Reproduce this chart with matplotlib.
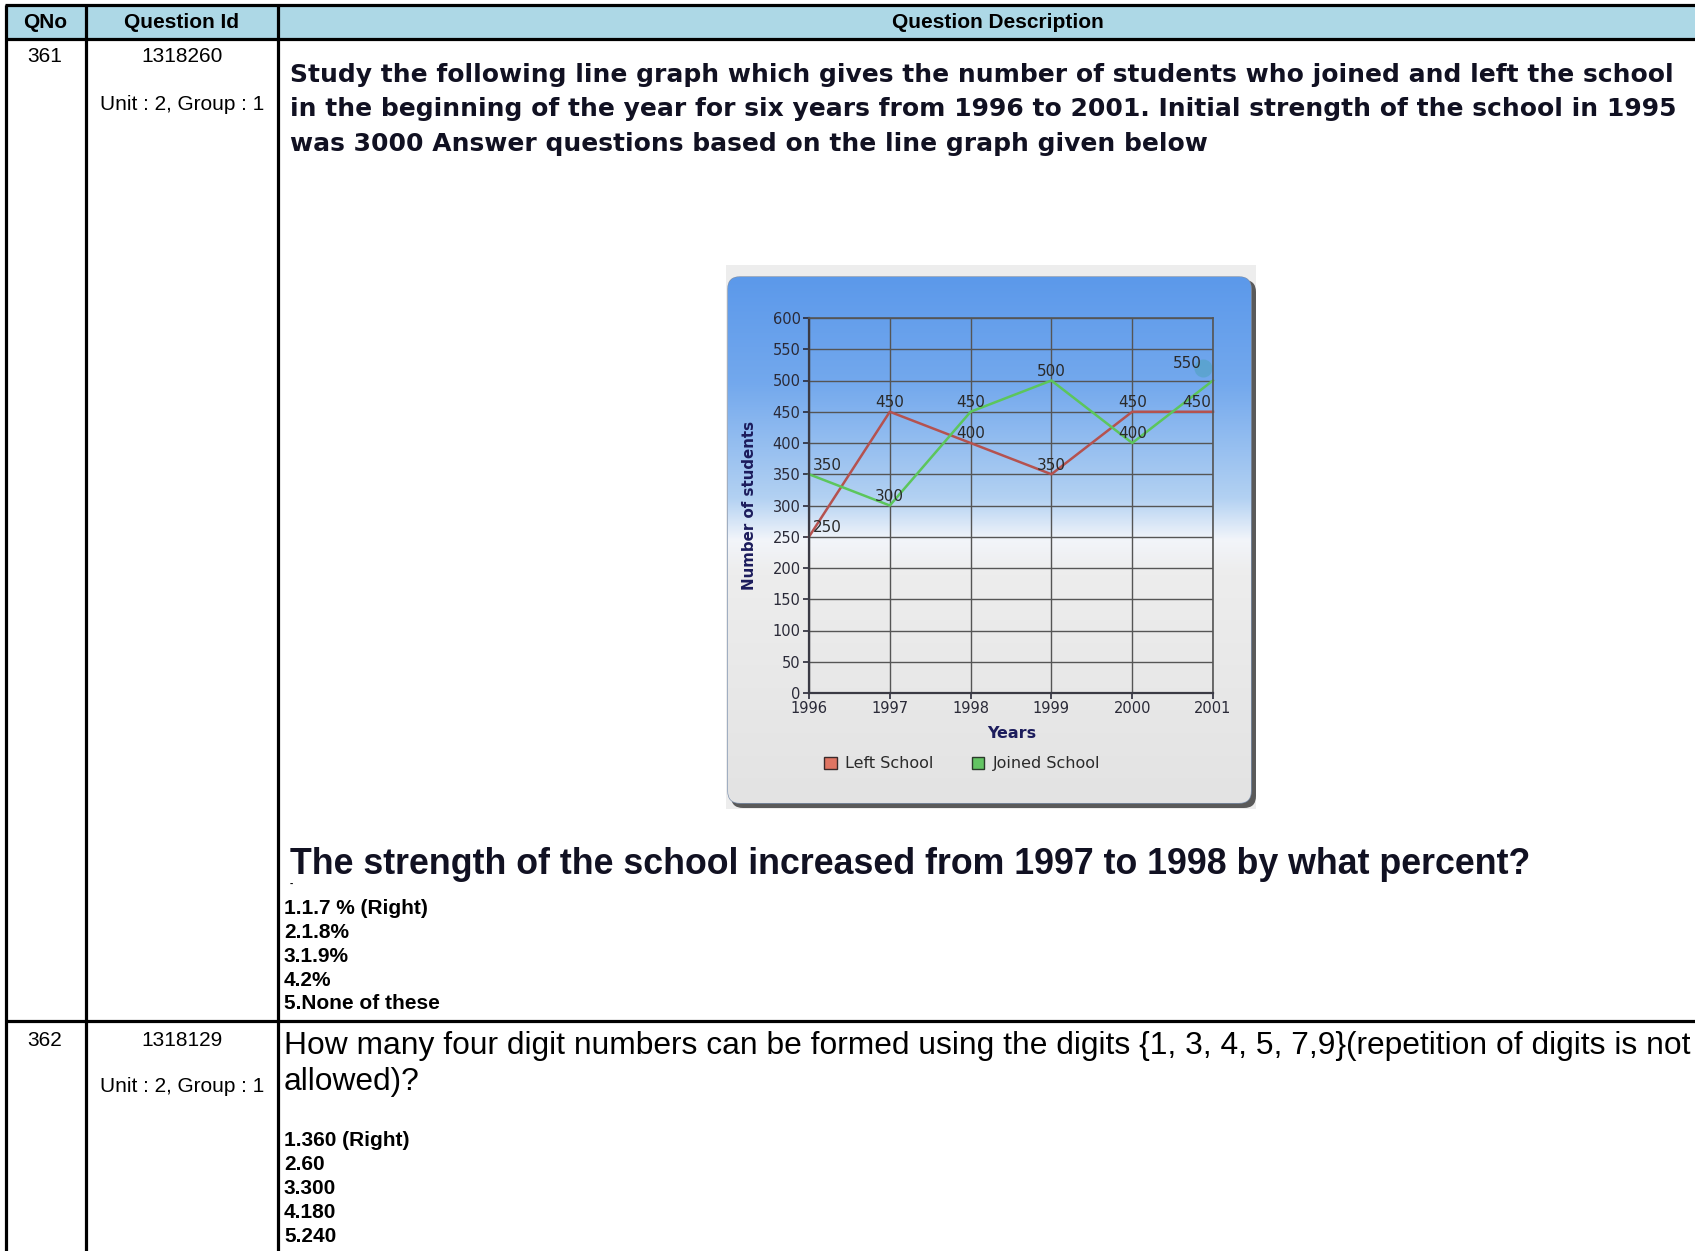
import matplotlib
matplotlib.use('Agg')
import matplotlib.pyplot as plt
import matplotlib.transforms as mtransforms
import numpy as np
from matplotlib.patches import FancyBboxPatch, Rectangle, Patch

# ---- table content ----
header_cols = ['QNo', 'Question Id', 'Question Description']
q_numbers = ['361', '362']
q_ids = ['1318260', '1318129']
q_units = ['Unit : 2, Group : 1', 'Unit : 2, Group : 1']

q1_intro = [
    'Study the following line graph which gives the number of students who joined and left the school',
    'in the beginning of the year for six years from 1996 to 2001. Initial strength of the school in 1995',
    'was 3000 Answer questions based on the line graph given below',
]
q1_question = 'The strength of the school increased from 1997 to 1998 by what percent?'
q1_options = ['1.1.7 % (Right)', '2.1.8%', '3.1.9%', '4.2%', '5.None of these']

q2_question = [
    'How many four digit numbers can be formed using the digits {1, 3, 4, 5, 7,9}(repetition of digits is not',
    'allowed)?',
]
q2_options = ['1.360 (Right)', '2.60', '3.300', '4.180', '5.240']

# ---- chart data ----
years = [1996, 1997, 1998, 1999, 2000, 2001]
left_school = [250, 450, 400, 350, 450, 450]
joined_school = [350, 300, 450, 500, 400, 500]
left_labels = ['250', '450', '400', '350', '450', '450']
joined_labels = ['350', '300', '450', '500', '400', '550']

W, H = 1695, 1251
fig = plt.figure(figsize=(W / 100, H / 100), dpi=100)
fig.patch.set_facecolor('white')
bg = fig.add_axes([0, 0, 1, 1])
bg.set_xlim(0, W)
bg.set_ylim(H, 0)
bg.axis('off')
renderer = fig.canvas.get_renderer()


def fit_text(x, y, s, width, **kw):
    # scale font so the string spans the given pixel width
    t = bg.text(x, y, s, fontsize=10, **kw)
    w = t.get_window_extent(renderer).width
    t.set_fontsize(10 * width / w)
    return t


# ---- table frame ----
bg.add_patch(Rectangle((5, 5), W, 34, facecolor='#add8e6', edgecolor='none'))
lw = 2.3
for yy in [5, 39, 1021]:
    bg.plot([5, W], [yy, yy], color='black', lw=lw, solid_capstyle='butt')
for xx in [5.5, 86, 278]:
    bg.plot([xx, xx], [5, H], color='black', lw=lw, solid_capstyle='butt')

sans = 'Liberation Sans'
hdr_x = [45, 182, 998]
for x, s in zip(hdr_x, header_cols):
    bg.text(x, 23, s, ha='center', va='center', fontsize=15, fontweight='bold', family=sans)

row_y = [(56, 105), (1040, 1087)]
for (y1, y2), n, qid, unit in zip(row_y, q_numbers, q_ids, q_units):
    bg.text(45, y1, n, ha='center', va='center', fontsize=15, family=sans)
    bg.text(182, y1, qid, ha='center', va='center', fontsize=15, family=sans)
    bg.text(182, y2, unit, ha='center', va='center', fontsize=15, family=sans)

# question 1 intro (Verdana-like bold)
t = fit_text(290, 144, q1_intro[2], 917, ha='left', va='center',
             fontweight='bold', family='DejaVu Sans', color='#111122')
fs_intro = t.get_fontsize()
for y, s in zip([75, 109], q1_intro[:2]):
    bg.text(290, y, s, ha='left', va='center', fontsize=fs_intro,
            fontweight='bold', family='DejaVu Sans', color='#111122')

fit_text(290, 865, q1_question, 1245, ha='left', va='center',
         fontweight='bold', family=sans, color='#111122')
bg.text(290, 884, '-', ha='left', va='center', fontsize=7, fontweight='bold', family=sans)

for i, s in enumerate(q1_options):
    bg.text(284, 909 + i * 23.7, s, ha='left', va='center', fontsize=15,
            fontweight='bold', family=sans)

t2 = fit_text(284, 1046, q2_question[0], 1408, ha='left', va='center', family=sans)
bg.text(284, 1082, q2_question[1], ha='left', va='center',
        fontsize=t2.get_fontsize(), family=sans)
for i, s in enumerate(q2_options):
    bg.text(284, 1140 + i * 24, s, ha='left', va='center', fontsize=15,
            fontweight='bold', family=sans)

# ---- chart panel ----
bg.add_patch(Rectangle((726, 265), 530, 544, facecolor='#ededed', edgecolor='none'))
bg.add_patch(FancyBboxPatch((731, 280), 525, 528, boxstyle='round,pad=0,rounding_size=12',
                            facecolor='#5a5a5a', edgecolor='none'))
panel = FancyBboxPatch((728, 277), 523, 526, boxstyle='round,pad=0,rounding_size=12',
                       facecolor='none', edgecolor='#7f93b0', lw=1)
bg.add_patch(panel)
yy = np.linspace(0, 1, 300)
stops = [0, 0.2, 0.42, 0.5, 0.56, 1]
rr = np.interp(yy, stops, [0.36, 0.45, 0.70, 0.95, 0.93, 0.89])
gg = np.interp(yy, stops, [0.60, 0.66, 0.82, 0.96, 0.93, 0.89])
bb = np.interp(yy, stops, [0.92, 0.93, 0.95, 0.98, 0.93, 0.89])
grad = np.stack([rr, gg, bb], axis=1)[:, None, :].repeat(2, axis=1)
im = bg.imshow(grad, extent=(728, 1251, 803, 277), aspect='auto', origin='upper', zorder=1)
im.set_clip_path(panel)
bg.set_xlim(0, W)
bg.set_ylim(H, 0)

# ---- line chart ----
px_l, px_r, px_t, px_b = 809, 1213, 318, 693
ax = fig.add_axes([px_l / W, 1 - px_b / H, (px_r - px_l) / W, (px_b - px_t) / H])
ax.set_facecolor('none')
ax.set_xlim(1996, 2001)
ax.set_ylim(0, 600)
ax.set_xticks(years)
ax.set_yticks(range(0, 601, 50))
ax.grid(True, color='#555555', lw=1.0)
ax.set_axisbelow(True)
for side in ['left', 'bottom']:
    ax.spines[side].set_color('#3a3a44')
    ax.spines[side].set_linewidth(1.6)
for side in ['top', 'right']:
    ax.spines[side].set_color('#555555')
    ax.spines[side].set_linewidth(1.2)
ax.tick_params(colors='#2a2a38', labelsize=10.5, length=4, width=1.2, pad=2)

red, green = '#b5524f', '#5cc65c'
ax.plot(years, left_school, color=red, lw=1.8, clip_on=False)
ax.plot(years, joined_school, color=green, lw=1.8, clip_on=False)

for series, labels in [(left_school, left_labels), (joined_school, joined_labels)]:
    for i, (x, y, s) in enumerate(zip(years, series, labels)):
        ha, dx = 'center', 0
        if i == 0:
            ha, dx = 'left', 3
        elif i == len(years) - 1:
            ha, dx = 'right', -1
        dy = 6.5
        if s != str(y):
            # label sits higher, over a smudged teal blob
            dy, dx = 12, -8
            shift = mtransforms.ScaledTranslation(-7 / 72, 9 / 72, fig.dpi_scale_trans)
            ax.plot([x], [y], marker='o', ms=13, color='#3aa0a0', alpha=0.35, mew=0,
                    transform=ax.transData + shift, clip_on=False)
        ax.annotate(s, (x, y), xytext=(dx, dy), textcoords='offset points',
                    ha=ha, va='center', fontsize=11, color='#2a2a2a')

ax.set_ylabel('Number of students', fontsize=10.8, fontweight='bold', color='#1c1c5c')
ax.yaxis.set_label_coords(-0.129, 0.5)
ax.set_xlabel('Years', fontsize=11.5, fontweight='bold', color='#1c1c5c')
ax.xaxis.set_label_coords(0.502, -0.109)
ax.xaxis.label.set_va('center')

handles = [Patch(facecolor='#e07563', edgecolor='#3a2a2a', label='Left School'),
           Patch(facecolor='#63c463', edgecolor='#2a3a2a', label='Joined School')]
ax.legend(handles=handles, loc='center', bbox_to_anchor=(0.379, -0.189), ncol=2,
          frameon=False, handlelength=0.8, handleheight=0.8, handletextpad=0.5,
          columnspacing=2.4, fontsize=11.5, labelcolor='#2a2a2a')

fig.savefig('out.png', dpi=100)
